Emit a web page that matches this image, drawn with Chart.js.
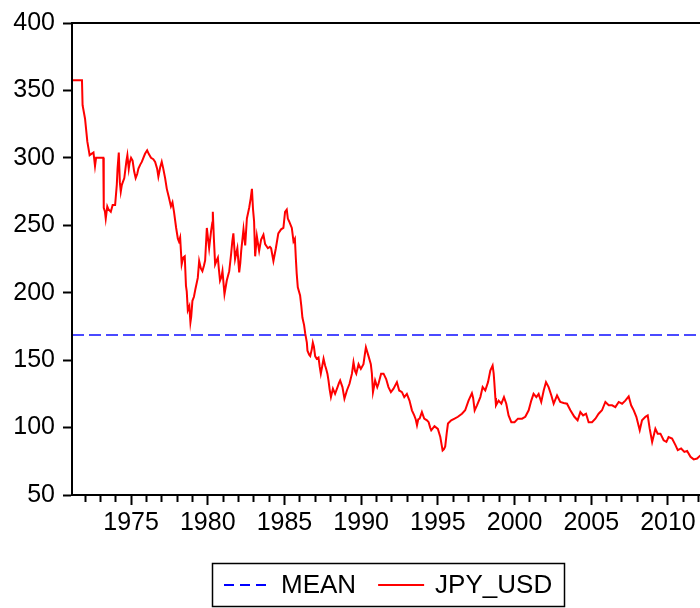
<!DOCTYPE html>
<html>
<head>
<meta charset="utf-8">
<title>JPY_USD</title>
<script src="https://cdn.jsdelivr.net/npm/chart.js@4/dist/chart.umd.min.js"></script>
<style>
  html, body { margin: 0; padding: 0; background: #fff; overflow: hidden; width: 700px; height: 608px; }
  #wrap { width: 706px; height: 608px; }
</style>
</head>
<body>
<div id="wrap"><canvas id="fxChart"></canvas></div>
<script>
// DATA
const years = [
  1971.15, 1971.80, 1971.84, 1972.00, 1972.15, 1972.30, 1972.55, 1972.65, 1972.72, 1973.19,
  1973.22, 1973.30, 1973.35, 1973.45, 1973.52, 1973.68, 1973.80, 1973.96, 1974.07, 1974.12,
  1974.20, 1974.27, 1974.33, 1974.40, 1974.56, 1974.70, 1974.76, 1974.85, 1974.90, 1975.00,
  1975.10, 1975.20, 1975.30, 1975.40, 1975.48, 1975.60, 1975.70, 1975.91, 1976.05, 1976.15,
  1976.30, 1976.45, 1976.57, 1976.70, 1976.78, 1976.90, 1977.00, 1977.10, 1977.22, 1977.33,
  1977.46, 1977.60, 1977.70, 1977.80, 1977.94, 1978.05, 1978.12, 1978.20, 1978.30, 1978.40,
  1978.50, 1978.58, 1978.63, 1978.70, 1978.80, 1978.87, 1978.92, 1979.00, 1979.10, 1979.20,
  1979.35, 1979.44, 1979.55, 1979.65, 1979.75, 1979.83, 1979.94, 1980.02, 1980.09, 1980.22,
  1980.30, 1980.33, 1980.40, 1980.48, 1980.58, 1980.66, 1980.72, 1980.80, 1980.90, 1980.96,
  1981.09, 1981.18, 1981.24, 1981.40, 1981.52, 1981.60, 1981.67, 1981.78, 1981.87, 1981.93,
  1982.05, 1982.12, 1982.18, 1982.33, 1982.44, 1982.55, 1982.70, 1982.80, 1982.88, 1982.95,
  1983.02, 1983.09, 1983.20, 1983.28, 1983.35, 1983.48, 1983.63, 1983.74, 1983.92, 1984.05,
  1984.13, 1984.28, 1984.44, 1984.60, 1984.78, 1984.93, 1985.04, 1985.15, 1985.22, 1985.30,
  1985.48, 1985.59, 1985.68, 1985.74, 1985.80, 1985.87, 1986.02, 1986.10, 1986.17, 1986.28,
  1986.35, 1986.46, 1986.50, 1986.61, 1986.68, 1986.78, 1986.85, 1986.92, 1987.00, 1987.10,
  1987.22, 1987.30, 1987.37, 1987.47, 1987.55, 1987.65, 1987.72, 1987.80, 1987.87, 1987.95,
  1988.03, 1988.16, 1988.30, 1988.46, 1988.55, 1988.63, 1988.78, 1988.91, 1989.07, 1989.24,
  1989.40, 1989.50, 1989.60, 1989.68, 1989.83, 1989.98, 1990.15, 1990.25, 1990.31, 1990.40,
  1990.48, 1990.63, 1990.70, 1990.77, 1990.85, 1990.91, 1991.05, 1991.13, 1991.30, 1991.46,
  1991.63, 1991.78, 1991.94, 1992.11, 1992.33, 1992.48, 1992.66, 1992.81, 1992.98, 1993.15,
  1993.31, 1993.46, 1993.56, 1993.64, 1993.72, 1993.81, 1993.96, 1994.11, 1994.29, 1994.40,
  1994.50, 1994.57, 1994.78, 1995.00, 1995.16, 1995.25, 1995.31, 1995.40, 1995.48, 1995.58,
  1995.66, 1995.87, 1996.09, 1996.31, 1996.57, 1996.78, 1997.00, 1997.22, 1997.30, 1997.40,
  1997.55, 1997.77, 1997.92, 1998.09, 1998.27, 1998.42, 1998.57, 1998.64, 1998.68, 1998.75,
  1998.79, 1998.96, 1999.14, 1999.31, 1999.46, 1999.61, 1999.79, 2000.00, 2000.22, 2000.49,
  2000.70, 2000.92, 2001.09, 2001.24, 2001.42, 2001.57, 2001.74, 2001.90, 2002.05, 2002.22,
  2002.40, 2002.55, 2002.77, 2002.98, 2003.20, 2003.42, 2003.64, 2003.90, 2004.11, 2004.29,
  2004.47, 2004.66, 2004.83, 2005.05, 2005.27, 2005.48, 2005.70, 2005.92, 2006.14, 2006.36,
  2006.57, 2006.79, 2007.01, 2007.22, 2007.44, 2007.60, 2007.77, 2007.94, 2008.16, 2008.31,
  2008.53, 2008.68, 2008.81, 2008.97, 2009.18, 2009.33, 2009.51, 2009.72, 2009.90, 2010.04,
  2010.27, 2010.49, 2010.64, 2010.86, 2011.07, 2011.25, 2011.47, 2011.68, 2011.90, 2012.08,
  2012.30
];
const jpyUsd = [
  357.5, 357.5, 339, 329, 312, 302, 304, 294, 300, 300,
  263, 260, 255, 264, 262, 260, 265, 265, 280, 292,
  304, 282, 275, 280, 285, 298, 302, 292, 296, 300,
  298, 290, 285, 288, 292, 295, 297, 303, 305.5, 303,
  300, 299, 297, 292, 286, 293, 297, 292, 285, 277,
  271, 264, 267, 260, 248, 240, 238, 241, 221, 226,
  227, 205, 201, 187, 190, 178, 182, 194, 197, 203,
  211, 223.5, 218, 216, 220, 224, 248, 240, 233, 246,
  252, 260, 240, 221, 224, 226, 218, 209, 212, 216,
  199, 205, 209, 216, 228.5, 238, 244, 225, 230, 233,
  215, 222, 231, 247, 235, 255, 263, 270, 277, 262,
  253, 227, 242, 236, 231, 239.5, 243, 236, 233, 234,
  233, 223.5, 233, 244, 247, 248, 260, 261.7, 255, 253,
  248, 238, 240, 226, 214, 204, 198, 190, 181.6, 176,
  170, 163, 157, 154, 153, 158, 163, 160, 153, 151,
  152, 145, 140, 146, 151, 146, 143.5, 140, 135, 128,
  122.6, 128.8, 125, 130, 133, 135, 130, 121.4, 127.5, 132.5,
  140, 148.4, 142, 140, 147, 143.5, 147, 155, 159.5, 156,
  153, 147, 140, 126.3, 131, 135, 130, 132.5, 140, 140,
  136, 130, 126.3, 128.8, 133.7, 127.5, 126.3, 122.6, 125, 120,
  112.8, 109, 106, 101.7, 106, 106.6, 111.5, 106.6, 105.4, 104,
  100, 98, 101, 99, 93, 87, 83, 84, 86, 96,
  103, 105.4, 106.6, 108, 110.3, 112.8, 120, 125.5, 122, 112.8,
  116.5, 122.6, 130, 127.5, 133.7, 142.3, 146, 140, 133.7, 122,
  116.5, 120, 117.7, 122.6, 117.7, 109, 104, 104, 106.6, 106.6,
  108, 112.8, 120, 125, 122.6, 125, 119, 127.5, 133.7, 130,
  123.8, 117.7, 123.8, 119, 118.2, 117.7, 112.8, 108, 105.4, 111.5,
  109, 110.3, 104, 104, 106.6, 110.3, 112.8, 119, 116.5, 116.5,
  115.2, 119, 117.7, 120, 123.1, 116.5, 112.8, 108, 98, 105.4,
  108, 109, 99.2, 89.4, 99.2, 95.5, 95.5, 90.6, 89.4, 93,
  91.9, 87, 83.2, 84.5, 82, 82.7, 78.3, 76.4, 77, 79,
  81
];
const meanValue = 168.6;
const tickYears = [
  1972, 1973, 1974, 1975, 1976, 1977, 1978, 1979, 1980, 1981,
  1982, 1983, 1984, 1985, 1986, 1987, 1988, 1989, 1990, 1991,
  1992, 1993, 1994, 1995, 1996, 1997, 1998, 1999, 2000, 2001,
  2002, 2003, 2004, 2005, 2006, 2007, 2008, 2009, 2010, 2011, 2012
];
const xMin = 1971.15;
const xMax = 2012.35;

const FONT = '"Liberation Sans", Arial, Helvetica, sans-serif';

// frame round the plot area
const plotFrame = {
  id: "plotFrame",
  afterDraw(chart) {
    const a = chart.chartArea;
    const ctx = chart.ctx;
    ctx.save();
    ctx.strokeStyle = "#000";
    ctx.lineWidth = 2;
    ctx.strokeRect(a.left, a.top, a.right - a.left, a.bottom - a.top);
    ctx.restore();
  }
};

// boxed legend under the axis, centred on the plot area
const boxLegend = {
  id: "boxLegend",
  afterDraw(chart) {
    const ctx = chart.ctx;
    const a = chart.chartArea;
    const items = chart.data.datasets.map(ds => ({
      label: ds.label,
      color: ds.legendColor || ds.borderColor,
      dash: ds.borderDash || []
    }));
    ctx.save();
    ctx.font = "26px " + FONT;
    const sample = 46, gap = 11, spacing = 22, padX = 12;
    let total = padX * 2;
    items.forEach((it, i) => {
      total += sample + gap + ctx.measureText(it.label).width + (i ? spacing : 0);
    });
    const top = chart.height - 45;
    const h = 43;
    const left = Math.round((a.left + a.right) / 2 - total / 2);
    ctx.strokeStyle = "#000";
    ctx.lineWidth = 1.5;
    ctx.strokeRect(left + 0.5, top + 0.5, Math.round(total), h);

    const cy = top + h / 2 + 0.5;
    let x = left + padX;
    items.forEach(it => {
      ctx.beginPath();
      ctx.setLineDash(it.dash.length ? [10, 6] : []);
      ctx.strokeStyle = it.color;
      ctx.lineWidth = 2;
      ctx.moveTo(x, cy);
      ctx.lineTo(x + sample, cy);
      ctx.stroke();
      ctx.setLineDash([]);
      x += sample + gap;
      ctx.fillStyle = "#000";
      ctx.textBaseline = "middle";
      ctx.textAlign = "left";
      ctx.fillText(it.label, x, cy + 1);
      x += ctx.measureText(it.label).width + spacing;
    });
    ctx.restore();
  }
};

new Chart(document.getElementById("fxChart"), {
  type: "line",
  data: {
    datasets: [
      {
        label: "MEAN",
        data: [{ x: xMin, y: meanValue }, { x: xMax, y: meanValue }],
        borderColor: "#4a4aff",
        legendColor: "#0000ff",
        borderWidth: 2,
        borderDash: [12, 5],
        pointRadius: 0,
        order: 2
      },
      {
        label: "JPY_USD",
        data: years.map((y, i) => ({ x: y, y: jpyUsd[i] })),
        borderColor: "#ff0000",
        borderWidth: 2,
        pointRadius: 0,
        tension: 0,
        order: 1
      }
    ]
  },
  options: {
    responsive: true,
    maintainAspectRatio: false,
    animation: false,
    devicePixelRatio: 1,
    layout: { padding: { left: 12, top: 21, right: 2, bottom: 68 } },
    plugins: {
      legend: { display: false },
      tooltip: { enabled: false }
    },
    scales: {
      x: {
        type: "linear",
        position: "bottom",
        min: xMin,
        max: xMax,
        afterBuildTicks: s => { s.ticks = tickYears.map(v => ({ value: v })); },
        afterFit: s => { s.height = 45; },
        ticks: {
          autoSkip: false,
          maxRotation: 0,
          padding: 3,
          color: "#000",
          font: { family: FONT, size: 25 },
          callback: v => (v % 5 === 0 ? String(v) : "")
        },
        grid: {
          drawOnChartArea: false,
          tickLength: 10,
          tickWidth: 2,
          tickColor: "#000",
          tickBorderDash: c => (c.tick && c.tick.value % 5 === 0 ? [] : [6, 20])
        },
        border: { display: true, color: "#000", width: 2 }
      },
      y: {
        min: 50,
        max: 400,
        afterFit: s => { s.width = 60; },
        ticks: {
          stepSize: 50,
          padding: 8,
          color: "#000",
          font: { family: FONT, size: 25 }
        },
        grid: {
          drawOnChartArea: false,
          tickLength: 9,
          tickWidth: 2,
          tickColor: "#000"
        },
        border: { display: true, color: "#000", width: 2 }
      }
    }
  },
  plugins: [plotFrame, boxLegend]
});
</script>
</body>
</html>
